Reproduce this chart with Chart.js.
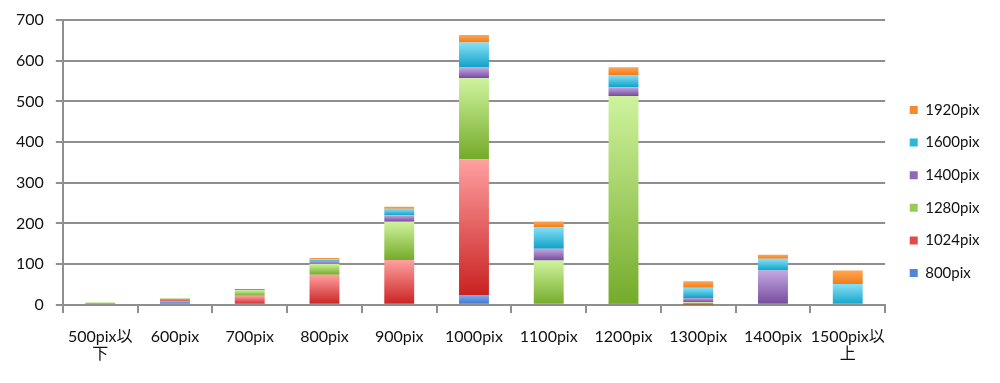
<!DOCTYPE html>
<html>
<head>
<meta charset="utf-8">
<script src="https://cdn.jsdelivr.net/npm/chart.js@4"></script>
<style>
  html, body { margin: 0; padding: 0; background: #fff; }
  #wrap { width: 1000px; height: 383px; }
</style>
</head>
<body>
<div id="wrap"><canvas id="chart" width="1000" height="383"></canvas></div>
<script>
// categories (x axis)
var categories = [['500pix以', '下'], '600pix', '700pix', '800pix', '900pix', '1000pix',
    '1100pix', '1200pix', '1300pix', '1400pix', ['1500pix以', '上']];

// series values, bottom of the stack first
var seriesNames = ['800pix', '1024pix', '1280pix', '1400pix', '1600pix', '1920pix'];
var v800  = [0, 9, 0, 0, 0, 24, 0, 0, 0, 0, 0];
var v1024 = [2, 3, 22, 74, 110, 334, 0, 2, 1, 0, 0];
var v1280 = [4, 4, 14, 27, 94, 199, 109, 511, 5, 0, 0];
var v1400 = [0, 1, 3, 5, 16, 26, 29, 22, 11, 84, 0];
var v1600 = [0, 0, 0, 6, 16, 62, 53, 30, 25, 29, 51];
var v1920 = [0, 0, 0, 3, 5, 18, 14, 19, 16, 10, 33];
var seriesValues = [v800, v1024, v1280, v1400, v1600, v1920];

// y axis ticks
var yTicks = [0, 100, 200, 300, 400, 500, 600, 700];

// gradient colours per series: [top (light), bottom (dark), legend]
var shades = [
    ['#7eaeee', '#3a70c8', '#4f86d8'],
    ['#ffa0a0', '#c92222', '#e24a4a'],
    ['#cff39e', '#74ab2a', '#96cc55'],
    ['#c4a8e2', '#744a9c', '#8f68b8'],
    ['#88e0f8', '#0fa2c6', '#2cb8dc'],
    ['#ffa552', '#ef7c1c', '#f8882c']
];

var FONT = "Lato, 'Noto Sans CJK JP', sans-serif";
var GRID = '#8f8f8f';

function segmentFill(ctx) {
    var sIdx = ctx.datasetIndex;
    var pal = shades[sIdx];
    if (ctx.type !== 'data') return pal[2];
    var chart = ctx.chart;
    var y = chart.scales && chart.scales.y;
    if (!y || !chart.chartArea) return pal[2];
    var i = ctx.dataIndex;
    var base = 0;
    for (var k = 0; k < sIdx; k++) base += seriesValues[k][i];
    var top = base + seriesValues[sIdx][i];
    var y0 = y.getPixelForValue(top);
    var y1 = y.getPixelForValue(base);
    if (!isFinite(y0) || !isFinite(y1) || y1 - y0 < 0.5) return pal[1];
    var g = chart.ctx.createLinearGradient(0, y0, 0, y1);
    g.addColorStop(0, pal[0]);
    g.addColorStop(1, pal[1]);
    return g;
}

var datasets = seriesNames.map(function(name, s) {
    return {
        label: name,
        data: seriesValues[s],
        backgroundColor: segmentFill,
        borderWidth: 0,
        barPercentage: 0.4,
        categoryPercentage: 1.0
    };
});

Chart.defaults.font.family = FONT;
Chart.defaults.color = '#111';

new Chart(document.getElementById('chart').getContext('2d'), {
    type: 'bar',
    data: { labels: categories, datasets: datasets },
    options: {
        responsive: false,
        animation: false,
        layout: { padding: { left: 16, right: 10.5, top: 20, bottom: 20 } },
        scales: {
            x: {
                stacked: true,
                // long tick with only the first 7px drawn, so labels sit lower
                grid: { display: true, drawOnChartArea: false, drawTicks: true, tickLength: 23,
                        tickBorderDash: [7, 60], color: GRID, lineWidth: 2 },
                border: { display: true, color: GRID, width: 2 },
                ticks: { font: { size: 16, lineHeight: 1.1 }, padding: 0, maxRotation: 0, autoSkip: false, color: '#111' }
            },
            y: {
                stacked: true,
                min: yTicks[0],
                max: yTicks[yTicks.length - 1],
                afterBuildTicks: function(scale) {
                    scale.ticks = yTicks.map(function(v) { return { value: v }; });
                },
                // only the last 7px of each tick (next to the axis) is drawn
                grid: { color: GRID, lineWidth: 2, tickLength: 19, tickBorderDash: [0, 12, 7, 0] },
                border: { display: true, color: GRID, width: 2 },
                ticks: { font: { size: 16 }, padding: 0, color: '#111' }
            },
            // spacer between plot and legend
            gap: {
                position: 'right',
                display: true,
                grid: { display: false },
                border: { display: false },
                ticks: { display: false },
                afterFit: function(scale) { scale.width = 7; }
            }
        },
        plugins: {
            legend: {
                position: 'right',
                reverse: true,
                labels: {
                    boxWidth: 8,
                    boxHeight: 8,
                    padding: 17.6,
                    font: { size: 15 },
                    color: '#111',
                    generateLabels: function(chart) {
                        var items = Chart.defaults.plugins.legend.labels.generateLabels(chart);
                        items.forEach(function(it) {
                            it.fillStyle = shades[it.datasetIndex][2];
                            it.strokeStyle = shades[it.datasetIndex][2];
                            it.lineWidth = 0;
                        });
                        return items;
                    }
                }
            },
            tooltip: { enabled: false }
        }
    }
});
</script>
</body>
</html>
